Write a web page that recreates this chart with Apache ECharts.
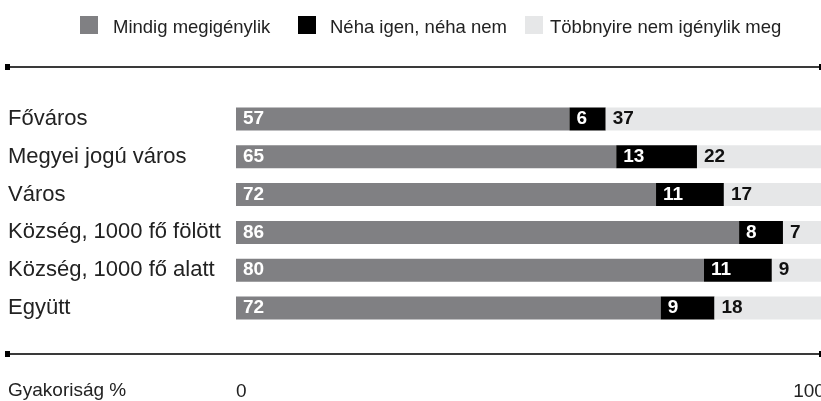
<!DOCTYPE html>
<html><head><meta charset="utf-8">
<script src="https://cdn.jsdelivr.net/npm/echarts@6/dist/echarts.min.js"></script>
<style>html,body{margin:0;padding:0;background:#fff}#c{width:821px;height:401px}</style>
</head><body><div id="c"></div>
<script>
// Categories (top to bottom)
const categories = ['Főváros','Megyei jogú város','Város','Község, 1000 fő fölött','Község, 1000 fő alatt','Együtt'];
const seriesNames = ['Mindig megigénylik','Néha igen, néha nem','Többnyire nem igénylik meg'];
// Segment lengths estimated from the bars (percent)
const always    = [57.0, 65.0, 71.8, 86.0, 80.0, 72.6];
const sometimes = [6.2, 13.8, 11.6, 7.5, 11.6, 9.2];
const mostlyNot = [36.8, 21.2, 16.6, 6.5, 8.4, 18.2];
// Printed value labels
const alwaysLabels    = [57, 65, 72, 86, 80, 72];
const sometimesLabels = [6, 13, 11, 8, 11, 9];
const mostlyNotLabels = [37, 22, 17, 7, 9, 18];
const axisTicks = [0, 100];
const axisTitle = 'Gyakoriság %';

const FONT = 'Liberation Sans, Arial, sans-serif';
const NARROW = 'Liberation Sans Narrow, Arial Narrow, sans-serif';
const colors = ['#808083','#000000','#e6e7e8'];
const labelColors = ['#ffffff','#ffffff','#111111'];
const values = [always, sometimes, mostlyNot];
const labels = [alwaysLabels, sometimesLabels, mostlyNotLabels];

const legendPos = [{left:80, pad:10}, {left:298, pad:9}, {left:525, pad:2}];

const chart = echarts.init(document.getElementById('c'), null, {renderer:'canvas'});
chart.setOption({
  animation:false,
  color: colors,
  legend: seriesNames.map((n,i)=>({
    left:legendPos[i].left, top:16, padding:0, itemWidth:18, itemHeight:18, itemGap:0,
    icon:'rect', selectedMode:false,
    data:[n],
    formatter: (name)=>'{t|' + name + '}',
    textStyle:{fontFamily:FONT, fontSize:18.5, color:'#222', padding:[0,0,0,legendPos[i].pad],
      rich:{t:{fontFamily:FONT, fontSize:18.5, color:'#222', padding:[6,0,0,0]}}}
  })),
  grid:{left:236, right:0, top:100, bottom:74, containLabel:false, outerBoundsMode:'none'},
  xAxis:{
    type:'value', min:axisTicks[0], max:axisTicks[1], interval:100,
    axisLine:{show:false}, axisTick:{show:false}, splitLine:{show:false},
    axisLabel:{margin:55, fontFamily:FONT, fontSize:19, color:'#222', padding:[0,24,0,0],
      alignMinLabel:'left', alignMaxLabel:'center'}
  },
  yAxis:{
    type:'category', data:categories, inverse:true,
    axisLine:{show:false}, axisTick:{show:false},
    axisLabel:{margin:228, align:'left', fontFamily:FONT, fontSize:22, color:'#222'}
  },
  series: seriesNames.map((n,i)=>({
    name:n, type:'bar', stack:'total', barWidth:23, data:values[i],
    itemStyle:{color:colors[i]},
    label:{show:true, position:'insideLeft', distance:7, fontFamily:NARROW, fontWeight:'bold', fontSize:19, color:labelColors[i],
      formatter:(p)=>String(labels[i][p.dataIndex])}
  })),
  graphic:[
    {type:'line', shape:{x1:7,y1:67,x2:821,y2:67}, style:{stroke:'#3a3a3a', lineWidth:2}},
    {type:'rect', shape:{x:5,y:64,width:5,height:6}, style:{fill:'#000'}},
    {type:'rect', shape:{x:819,y:64,width:2,height:6}, style:{fill:'#000'}},
    {type:'line', shape:{x1:7,y1:354,x2:821,y2:354}, style:{stroke:'#3a3a3a', lineWidth:2}},
    {type:'rect', shape:{x:5,y:351,width:5,height:6}, style:{fill:'#000'}},
    {type:'rect', shape:{x:819,y:351,width:2,height:6}, style:{fill:'#000'}},
    {type:'text', left:8, top:381, style:{text:axisTitle, fontFamily:FONT, fontSize:19, fill:'#222'}}
  ]
});
</script></body></html>
